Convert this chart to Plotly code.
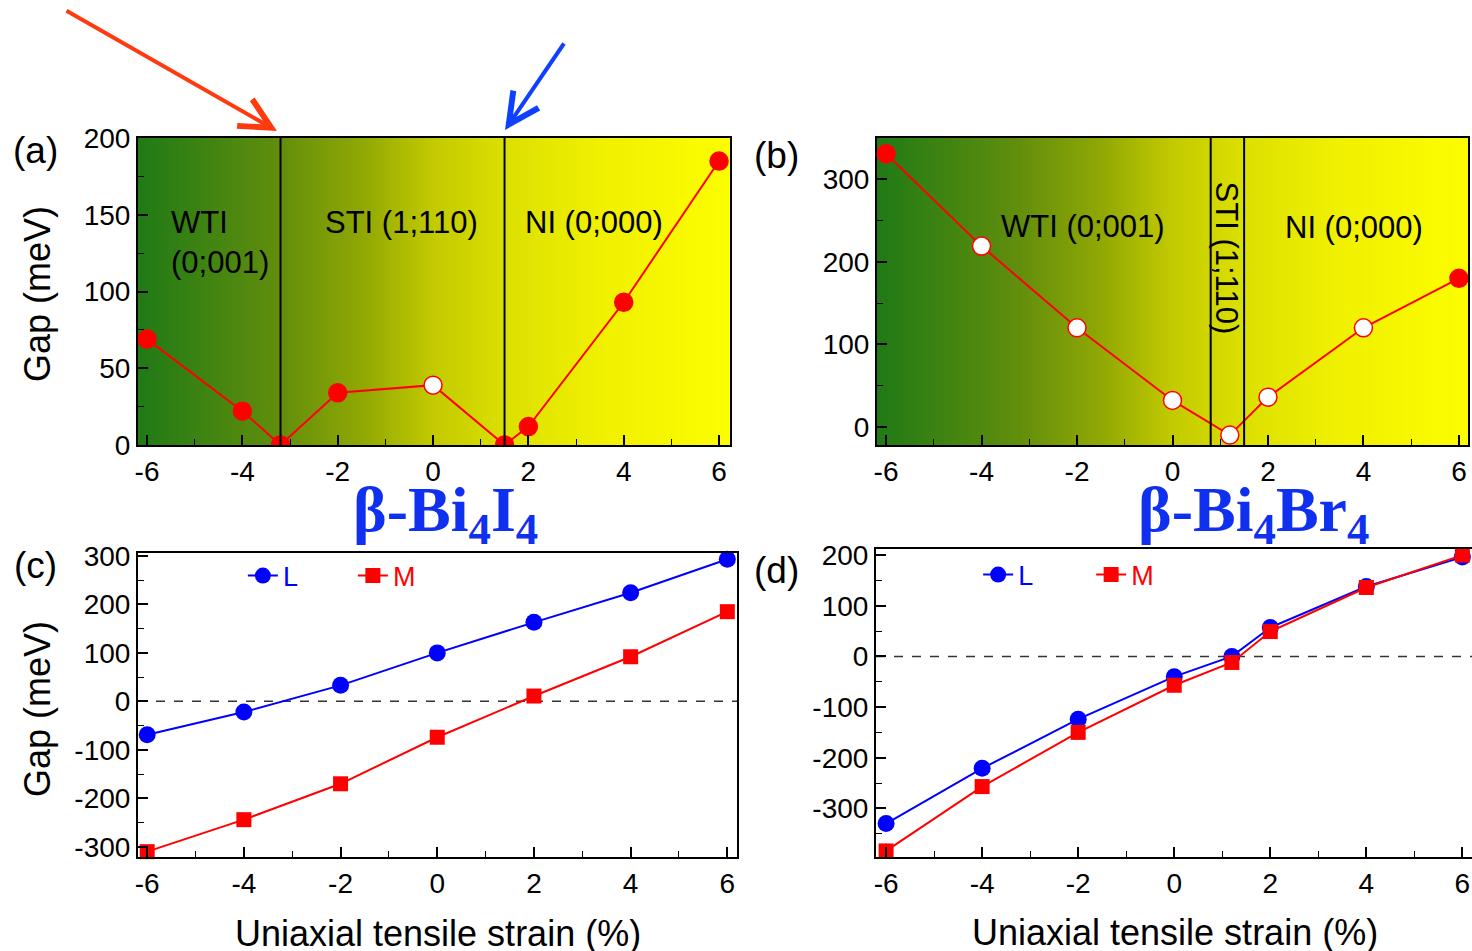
import numpy as np
import plotly.graph_objects as go

# ---------------- data ----------------
strain = [-6, -4, -2, 0, 2, 4, 6]
strain_labels = ["-6", "-4", "-2", "0", "2", "4", "6"]

# (a) beta-Bi4I4 gap
a_x = [-6, -4, -3.2, -2, 0, 1.5, 2, 4, 6]
a_gap = [69, 22, 0, 34, 39, 0, 12, 93, 185]
a_open = [False, False, False, False, True, False, False, False, False]
a_bounds = [-3.2, 1.5]
a_regions = ["WTI<br>(0;001)", "STI (1;110)", "NI (0;000)"]
a_yticks = [0, 50, 100, 150, 200]

# (b) beta-Bi4Br4 gap
b_x = [-6, -4, -2, 0, 1.2, 2, 4, 6]
b_gap = [331, 219, 120, 32, -10, 36, 120, 180]
b_open = [False, True, True, True, True, True, True, False]
b_bounds = [0.8, 1.5]
b_regions = ["WTI (0;001)", "STI (1;110)", "NI (0;000)"]
b_yticks = [0, 100, 200, 300]

# (c) beta-Bi4I4 L / M
c_L = [-69, -22, 33, 100, 163, 224, 293]
c_M = [-310, -244, -170, -74, 11, 92, 185]
c_yticks = [-300, -200, -100, 0, 100, 200, 300]

# (d) beta-Bi4Br4 L / M
d_x = [-6, -4, -2, 0, 1.2, 2, 4, 6]
d_L = [-330, -221, -124, -40, 0, 57, 138, 196]
d_M = [-384, -257, -150, -57, -12, 49, 136, 200]
d_yticks = [-300, -200, -100, 0, 100, 200]

# ---------------- style ----------------
W, H = 1472, 951
FONT = "Liberation Sans, Arial, sans-serif"
RED = "#ff0000"
BLUE = "#0000ff"
TITLE_BLUE = "#1030f0"

xr_a = [-6.19, 6.23]
yr_a = [0, 200]
xr_b = [-6.19, 6.19]
yr_b = [-22, 350]
xr_c = [-6.19, 6.2]
yr_c = [-321, 306]
xr_d = [-6.21, 6.2]
yr_d = [-396, 212]

def px_dom_x(l, r):
    return [l / W, r / W]

def px_dom_y(t, b):
    return [1 - b / H, 1 - t / H]

def lab(v):
    return str(v)

colorscale = [
    [0.0, "rgb(32,122,22)"],
    [0.24, "rgb(98,142,12)"],
    [0.38, "rgb(145,168,4)"],
    [0.5, "rgb(195,202,0)"],
    [0.62, "rgb(220,224,0)"],
    [0.78, "rgb(240,240,0)"],
    [1.0, "rgb(253,253,0)"],
]

fig = go.Figure()

# background gradients for (a) and (b)
for xr, yr, xa, ya in [(xr_a, yr_a, "x", "y"), (xr_b, yr_b, "x2", "y2")]:
    gx = np.linspace(xr[0], xr[1], 300)
    fig.add_trace(go.Heatmap(
        x=gx, y=[yr[0] - 50, yr[1] + 50], z=[list(gx), list(gx)],
        colorscale=colorscale, zmin=xr[0], zmax=xr[1], showscale=False,
        zsmooth="best", hoverinfo="skip", xaxis=xa, yaxis=ya, showlegend=False))

# (a)
fig.add_trace(go.Scatter(
    x=a_x, y=a_gap, mode="lines+markers", xaxis="x", yaxis="y", showlegend=False,
    line=dict(color=RED, width=2),
    marker=dict(size=18, symbol="circle",
                color=["white" if o else RED for o in a_open],
                line=dict(color=RED, width=1.5))))

# (b)
fig.add_trace(go.Scatter(
    x=b_x, y=b_gap, mode="lines+markers", xaxis="x2", yaxis="y2", showlegend=False,
    line=dict(color=RED, width=2), cliponaxis=False,
    marker=dict(size=18, symbol="circle",
                color=["white" if o else RED for o in b_open],
                line=dict(color=RED, width=1.5))))

# (c)
fig.add_trace(go.Scatter(
    x=strain, y=c_L, mode="lines+markers", xaxis="x3", yaxis="y3",
    name="<span style='color:#0000ff'>L</span>", legend="legend", cliponaxis=False,
    line=dict(color=BLUE, width=2), marker=dict(size=17, symbol="circle", color=BLUE)))
fig.add_trace(go.Scatter(
    x=strain, y=c_M, mode="lines+markers", xaxis="x3", yaxis="y3",
    name="<span style='color:#ff0000'>M</span>", legend="legend", cliponaxis=False,
    line=dict(color=RED, width=2), marker=dict(size=15, symbol="square", color=RED)))

# (d)
fig.add_trace(go.Scatter(
    x=d_x, y=d_L, mode="lines+markers", xaxis="x4", yaxis="y4",
    name="<span style='color:#0000ff'>L</span>", legend="legend2", cliponaxis=False,
    line=dict(color=BLUE, width=2), marker=dict(size=17, symbol="circle", color=BLUE)))
fig.add_trace(go.Scatter(
    x=d_x, y=d_M, mode="lines+markers", xaxis="x4", yaxis="y4",
    name="<span style='color:#ff0000'>M</span>", legend="legend2", cliponaxis=False,
    line=dict(color=RED, width=2), marker=dict(size=15, symbol="square", color=RED)))

def xaxis(dom, rng, anchor):
    return dict(domain=dom, range=rng, anchor=anchor, tickvals=strain, ticktext=strain_labels,
                ticks="inside", ticklen=10, tickwidth=1.5, tickcolor="black",
                minor=dict(dtick=1, ticks="inside", ticklen=6, tickwidth=1.2, tickcolor="black"),
                showline=True, linecolor="black", linewidth=2, mirror=True,
                showgrid=False, zeroline=False, automargin=False,
                tickfont=dict(family=FONT, size=28, color="black"))

def yaxis(dom, rng, anchor, tv, minor):
    return dict(domain=dom, range=rng, anchor=anchor, tickvals=tv,
                ticktext=[lab(v) for v in tv],
                ticks="inside", ticklen=10, tickwidth=1.5, tickcolor="black",
                minor=dict(dtick=minor, ticks="inside", ticklen=6, tickwidth=1.2, tickcolor="black"),
                showline=True, linecolor="black", linewidth=2, mirror=True,
                showgrid=False, zeroline=False, automargin=False,
                tickfont=dict(family=FONT, size=28, color="black"))

layout = dict(
    width=W, height=H, margin=dict(l=0, r=0, t=0, b=0, autoexpand=False),
    paper_bgcolor="white", plot_bgcolor="white",
    xaxis=xaxis(px_dom_x(138, 730), xr_a, "y"),
    yaxis=yaxis(px_dom_y(138, 445), yr_a, "x", a_yticks, 25),
    xaxis2=xaxis(px_dom_x(877, 1468), xr_b, "y2"),
    yaxis2=yaxis(px_dom_y(138, 445), yr_b, "x2", b_yticks, 50),
    xaxis3=xaxis(px_dom_x(138, 737), xr_c, "y3"),
    yaxis3=yaxis(px_dom_y(553, 857), yr_c, "x3", c_yticks, 50),
    xaxis4=xaxis(px_dom_x(876, 1472), xr_d, "y4"),
    yaxis4=yaxis(px_dom_y(549, 857), yr_d, "x4", d_yticks, 50),
    legend=dict(x=0.165, y=1 - 576 / H, xanchor="left", yanchor="middle", orientation="h",
                bgcolor="rgba(0,0,0,0)", font=dict(family=FONT, size=27),
                entrywidth=65, entrywidthmode="pixels", itemwidth=30),
    legend2=dict(x=0.6645, y=1 - 575 / H, xanchor="left", yanchor="middle", orientation="h",
                 bgcolor="rgba(0,0,0,0)", font=dict(family=FONT, size=27),
                 entrywidth=68, entrywidthmode="pixels", itemwidth=30),
)
fig.update_layout(**layout)

shapes = []
for bx in a_bounds:
    shapes.append(dict(type="line", xref="x", yref="y domain", x0=bx, x1=bx, y0=0, y1=1,
                       line=dict(color="black", width=2)))
for bx in b_bounds:
    shapes.append(dict(type="line", xref="x2", yref="y2 domain", x0=bx, x1=bx, y0=0, y1=1,
                       line=dict(color="black", width=2)))
for xa, ya in [("x3", "y3"), ("x4", "y4")]:
    shapes.append(dict(type="line", xref=xa + " domain", yref=ya, x0=0, x1=1, y0=0, y1=0,
                       line=dict(color="#333333", width=1.5, dash="dash"), layer="below"))
fig.update_layout(shapes=shapes)

ann = []
def txt(text, x, y, xref="paper", yref="paper", size=31, color="black", family=FONT,
        angle=0, xanchor="center", yanchor="middle", align="center"):
    ann.append(dict(text=text, x=x, y=y, xref=xref, yref=yref, showarrow=False,
                    font=dict(size=size, color=color, family=family), textangle=angle,
                    xanchor=xanchor, yanchor=yanchor, align=align))

# region labels (a)
txt(a_regions[0], -5.55, 132, "x", "y", xanchor="left", align="left")
txt(a_regions[1], -0.67, 145, "x", "y")
txt(a_regions[2], 3.38, 145, "x", "y")
# region labels (b)
txt(b_regions[0], -1.87, 243, "x2", "y2")
txt(b_regions[1], 1.14, 204, "x2", "y2", angle=90)
txt(b_regions[2], 3.80, 242, "x2", "y2")

# panel letters
txt("(a)", 35 / W, 1 - 150 / H, size=37)
txt("(b)", 776 / W, 1 - 155 / H, size=37)
txt("(c)", 35 / W, 1 - 565 / H, size=37)
txt("(d)", 776 / W, 1 - 570 / H, size=37)

# axis titles
txt("Gap (meV)", 37 / W, 1 - 294 / H, size=36, angle=-90)
txt("Gap (meV)", 37 / W, 1 - 709 / H, size=36, angle=-90)
txt("Uniaxial tensile strain (%)", 438 / W, 1 - 933 / H, size=36)
txt("Uniaxial tensile strain (%)", 1175 / W, 1 - 932 / H, size=36)

# compound titles
SERIF = "Liberation Serif, DejaVu Serif, serif"
txt("<b>β-Bi<sub>4</sub>I<sub>4</sub></b>", 445 / W, 1 - 514 / H, size=64,
    color=TITLE_BLUE, family=SERIF)
txt("<b>β-Bi<sub>4</sub>Br<sub>4</sub></b>", 1253 / W, 1 - 514 / H, size=64,
    color=TITLE_BLUE, family=SERIF)

# arrows
ann.append(dict(x=277 / W, y=1 - 131 / H, xref="paper", yref="paper", ax=65 - 277, ay=10 - 131,
                showarrow=True, arrowhead=5, arrowsize=1.5, arrowwidth=4,
                arrowcolor="#ff3a10", standoff=0, text=""))
ann.append(dict(x=505 / W, y=1 - 130 / H, xref="paper", yref="paper", ax=565 - 505, ay=42 - 130,
                showarrow=True, arrowhead=5, arrowsize=1.5, arrowwidth=4,
                arrowcolor="#1040ff", standoff=0, text=""))

fig.update_layout(annotations=ann)
fig.write_html("out.html")
